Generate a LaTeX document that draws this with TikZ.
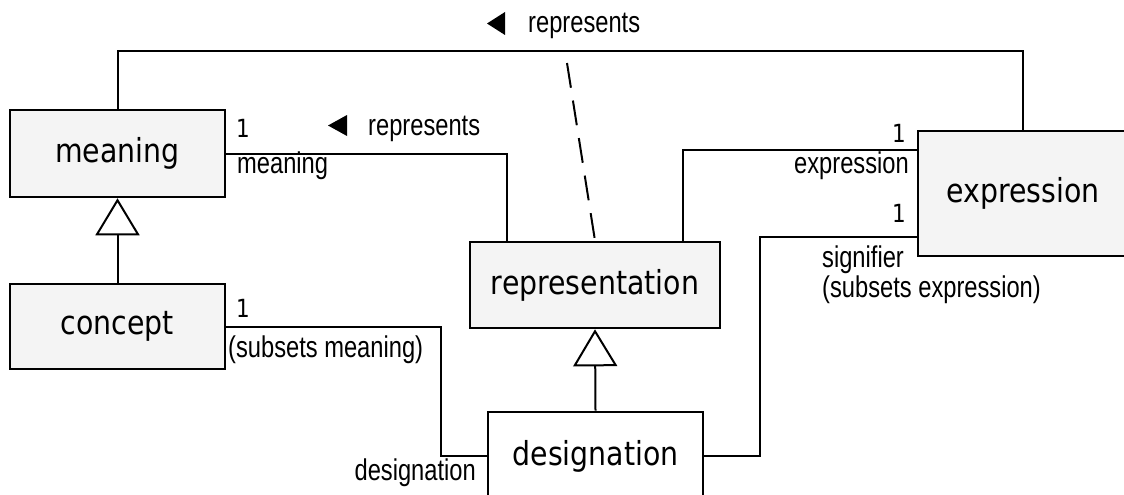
\documentclass[tikz,border=0pt]{standalone}
\usepackage{fontspec}
\usetikzlibrary{arrows.meta,calc}
\newfontfamily\boxfont[FakeStretch=0.86]{DejaVu Sans}
\newfontfamily\lblfont[FakeStretch=0.79]{Liberation Sans}
\definecolor{boxfill}{HTML}{F4F4F4}
\tikzset{
  cls/.style={draw=black, line width=2.6pt, fill=boxfill, inner sep=0pt,
    font=\boxfont\fontsize{33}{40}\selectfont},
  conn/.style={line width=2pt, draw=black},
  gen/.style={conn, -{Triangle[open, length=37pt, width=44pt, line width=2pt]}},
  lbl/.style={inner sep=0pt, font=\lblfont\fontsize{30}{36}\selectfont},
  mult/.style={inner sep=0pt, font=\boxfont\fontsize{25}{30}\selectfont},
  dirmark/.style={fill=black}
}
\begin{document}
\begin{tikzpicture}[x=1pt,y=-1pt]
\useasboundingbox (0,0) rectangle (1124,495);
% classes
\node[cls, minimum width=215pt, minimum height=87pt] (meaning) at (117.5,153.5) {meaning};
\node[cls, minimum width=215pt, minimum height=85pt] (concept) at (117.5,326.5) {concept};
\node[cls, minimum width=250pt, minimum height=86pt] (representation) at (595,285) {representation};
\node[cls, minimum width=210pt, minimum height=125pt] (expression) at (1023,193.5) {expression};
\node[cls, fill=white, minimum width=215pt, minimum height=88pt] (designation) at (595.5,456) {designation};
% generalizations
\draw[gen] (concept.north) -- (meaning.south);
\draw[gen] (designation.north) -- (representation.south);
% top association meaning -- expression
\draw[conn] (meaning.north) -- ++(0,-58) -| (expression.north);
\coordinate (dashend) at (567,63);
\draw[line width=2pt, dash pattern=on 25pt off 13pt] (dashend) -- (representation.north);
% meaning -- representation
\draw[conn] (meaning.east) -| ($(representation.north west)+(38,0)$);
% representation -- expression
\draw[conn] ($(representation.north east)+(-38,0)$) |- ($(expression.north west)+(0,20)$);
% designation -- expression (signifier)
\draw[conn] (designation.east) -- ++(56,0) |- ($(expression.north west)+(0,107)$);
% concept -- designation
\draw[conn] (concept.east) -- ++(215,0) |- (designation.west);
% direction markers
\fill[dirmark] (487,23.5) -- (505,12) -- (505,35) -- cycle;
\fill[dirmark] (328,125.5) -- (347,115) -- (347,136) -- cycle;
% labels
\node[lbl, anchor=base west] (lrep1) at (528,33) {represents};
\node[lbl, anchor=base west] (lrep2) at (368,135) {represents};
\node[mult, anchor=base west] (m1) at (236,137) {1};
\node[lbl, anchor=base west] (lmeaning) at (237,173) {meaning};
\node[mult, anchor=base east] (m2) at (906,142) {1};
\node[lbl, anchor=base east] (lexpr) at (909,173) {expression};
\node[mult, anchor=base east] (m3) at (906,222) {1};
\node[lbl, anchor=base west] (lsig) at (822,267) {signifier};
\node[lbl, anchor=base west] (lsubexp) at (822,297) {(subsets expression)};
\node[mult, anchor=base west] (m4) at (236,317) {1};
\node[lbl, anchor=base west] (lsubm) at (228,357) {(subsets meaning)};
\node[lbl, anchor=base east] (ldes) at (476,480) {designation};
\end{tikzpicture}
\end{document}
